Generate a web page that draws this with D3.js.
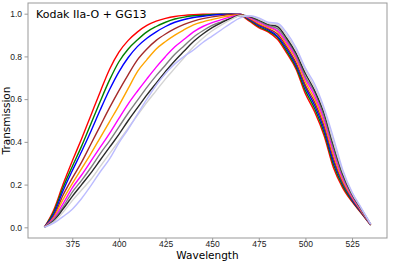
<!DOCTYPE html>
<html>
<head>
<meta charset="utf-8">
<script src="https://cdn.jsdelivr.net/npm/d3@7"></script>
<style>
  body { margin: 0; background: #fff; }
  svg { display: block; font-family: "DejaVu Sans", sans-serif; }
  .axis path, .axis line { stroke: #999; }
  .axis text { fill: #222; font-size: 8.5px; }
</style>
</head>
<body>
<svg id="chart" width="393" height="261"></svg>
<script>
const wavelengths = [360, 365, 370, 375, 380, 385, 390, 395, 400, 405, 410, 415, 420, 425, 430, 435, 440, 445, 450, 455,
  460, 465, 470, 475, 480, 485, 490, 495, 500, 505, 510, 515, 520, 525, 530, 535];

const seriesColors = ['#ff0000', '#008000', '#0000ff', '#a52a2a', '#ffa500', '#ff00ff', '#808080', '#2b2b2b', '#d3d3d3', '#bcbcff'];

const red = [0, 0.08, 0.2, 0.31, 0.415, 0.525, 0.635, 0.74, 0.82, 0.875, 0.915, 0.945, 0.965, 0.978, 0.987, 0.992, 0.995, 0.997, 0.998, 0.998,
  0.997, 0.992, 0.965, 0.935, 0.915, 0.88, 0.815, 0.74, 0.625, 0.54, 0.43, 0.28, 0.185, 0.12, 0.065, 0.01];
const green = [0, 0.07, 0.185, 0.285, 0.38, 0.485, 0.59, 0.69, 0.775, 0.835, 0.878, 0.915, 0.94, 0.96, 0.975, 0.984, 0.99, 0.993, 0.996, 0.997,
  0.997, 0.995, 0.97, 0.94, 0.92, 0.89, 0.825, 0.75, 0.64, 0.555, 0.445, 0.295, 0.195, 0.125, 0.068, 0.011];
const blue = [0, 0.06, 0.17, 0.265, 0.355, 0.45, 0.55, 0.645, 0.728, 0.795, 0.847, 0.885, 0.915, 0.94, 0.96, 0.973, 0.982, 0.988, 0.993, 0.996,
  0.998, 0.998, 0.973, 0.945, 0.925, 0.895, 0.835, 0.76, 0.655, 0.57, 0.46, 0.31, 0.205, 0.13, 0.07, 0.012];
const brown = [0, 0.05, 0.15, 0.23, 0.305, 0.39, 0.475, 0.56, 0.64, 0.715, 0.785, 0.835, 0.875, 0.905, 0.93, 0.95, 0.965, 0.977, 0.985, 0.991,
  0.996, 0.998, 0.976, 0.95, 0.93, 0.905, 0.845, 0.77, 0.665, 0.585, 0.475, 0.325, 0.21, 0.135, 0.073, 0.012];
const orange = [0, 0.045, 0.13, 0.205, 0.275, 0.345, 0.42, 0.495, 0.57, 0.65, 0.73, 0.785, 0.835, 0.87, 0.9, 0.925, 0.948, 0.962, 0.973, 0.983,
  0.99, 0.995, 0.979, 0.955, 0.935, 0.915, 0.855, 0.785, 0.68, 0.6, 0.49, 0.34, 0.22, 0.14, 0.076, 0.013];
const magenta = [0, 0.04, 0.11, 0.185, 0.245, 0.31, 0.375, 0.44, 0.51, 0.578, 0.638, 0.695, 0.75, 0.8, 0.845, 0.88, 0.915, 0.94, 0.958, 0.972,
  0.985, 0.993, 0.982, 0.96, 0.94, 0.92, 0.865, 0.795, 0.695, 0.615, 0.505, 0.355, 0.23, 0.145, 0.079, 0.013];
const gray = [0, 0.035, 0.095, 0.165, 0.22, 0.28, 0.345, 0.405, 0.47, 0.535, 0.595, 0.655, 0.71, 0.76, 0.81, 0.85, 0.89, 0.92, 0.945, 0.962,
  0.978, 0.99, 0.985, 0.965, 0.945, 0.93, 0.875, 0.805, 0.705, 0.63, 0.52, 0.37, 0.24, 0.15, 0.082, 0.014];
const black = [0, 0.03, 0.085, 0.145, 0.2, 0.255, 0.315, 0.375, 0.435, 0.5, 0.56, 0.62, 0.675, 0.73, 0.78, 0.825, 0.87, 0.905, 0.935, 0.958,
  0.978, 0.993, 0.987, 0.97, 0.95, 0.94, 0.885, 0.815, 0.72, 0.64, 0.535, 0.385, 0.25, 0.155, 0.085, 0.014];
const lightgray = [0, 0.025, 0.07, 0.125, 0.175, 0.225, 0.285, 0.345, 0.405, 0.465, 0.525, 0.585, 0.64, 0.695, 0.745, 0.795, 0.845, 0.885, 0.92, 0.948,
  0.972, 0.99, 0.989, 0.975, 0.955, 0.948, 0.898, 0.83, 0.735, 0.655, 0.55, 0.4, 0.26, 0.16, 0.088, 0.015];
const lavender = [0, 0.02, 0.05, 0.085, 0.135, 0.195, 0.26, 0.32, 0.395, 0.46, 0.53, 0.6, 0.665, 0.72, 0.765, 0.8, 0.83, 0.865, 0.895, 0.925,
  0.955, 0.98, 0.99, 0.98, 0.96, 0.955, 0.91, 0.84, 0.745, 0.67, 0.56, 0.42, 0.27, 0.165, 0.09, 0.015];

const series = [red, green, blue, brown, orange, magenta, gray, black, lightgray, lavender];
const xTicks = [375, 400, 425, 450, 475, 500, 525];
const yTicks = [0, 0.2, 0.4, 0.6, 0.8, 1.0];
const title = 'Kodak IIa-O + GG13';

const svg = d3.select('#chart');
const padding = { top: 3, left: 28, bottom: 23, right: 6 };
const width = 393 - padding.left - padding.right;
const height = 261 - padding.top - padding.bottom;

const xScale = d3.scaleLinear().domain([351.25, 543.75]).range([0, width]);
const yScale = d3.scaleLinear().domain([-0.05, 1.05]).range([height, 0]);

const canvas = svg.append('g').attr('transform', `translate(${padding.left},${padding.top})`);

const line = d3.line()
  .x((d, i) => xScale(wavelengths[i]))
  .y(d => yScale(d))
  .curve(d3.curveMonotoneX);

canvas.append('g')
  .selectAll('path')
  .data(series)
  .enter()
  .append('path')
  .attr('d', line)
  .attr('fill', 'none')
  .attr('stroke', (d, i) => seriesColors[i])
  .attr('stroke-width', 1.4)
  .attr('stroke-linejoin', 'round');

const xAxis = d3.axisBottom(xScale).tickValues(xTicks).tickSize(3).tickPadding(0).tickFormat(d3.format('d'));
const yAxis = d3.axisLeft(yScale).tickValues(yTicks).tickSize(3.5).tickPadding(2.5).tickFormat(d3.format('.1f'));

canvas.append('g').attr('class', 'axis').attr('transform', `translate(0,${height})`).call(xAxis)
  .call(g => g.select('.domain').remove());
canvas.append('g').attr('class', 'axis').call(yAxis)
  .call(g => g.select('.domain').remove());

canvas.append('rect')
  .attr('x', 0).attr('y', 0)
  .attr('width', width).attr('height', height)
  .attr('fill', 'none').attr('stroke', '#999').attr('stroke-width', 1);

canvas.append('text')
  .attr('x', 8).attr('y', 15)
  .attr('font-size', 11).attr('fill', '#000')
  .text(title);

svg.append('text')
  .attr('x', padding.left + width / 2).attr('y', 258.5)
  .attr('text-anchor', 'middle')
  .attr('font-size', 10.5).attr('fill', '#000')
  .text('Wavelength');

svg.append('text')
  .attr('transform', `translate(10,${padding.top + height / 2}) rotate(-90)`)
  .attr('text-anchor', 'middle')
  .attr('font-size', 10.5).attr('fill', '#000')
  .text('Transmission');
</script>
</body>
</html>
